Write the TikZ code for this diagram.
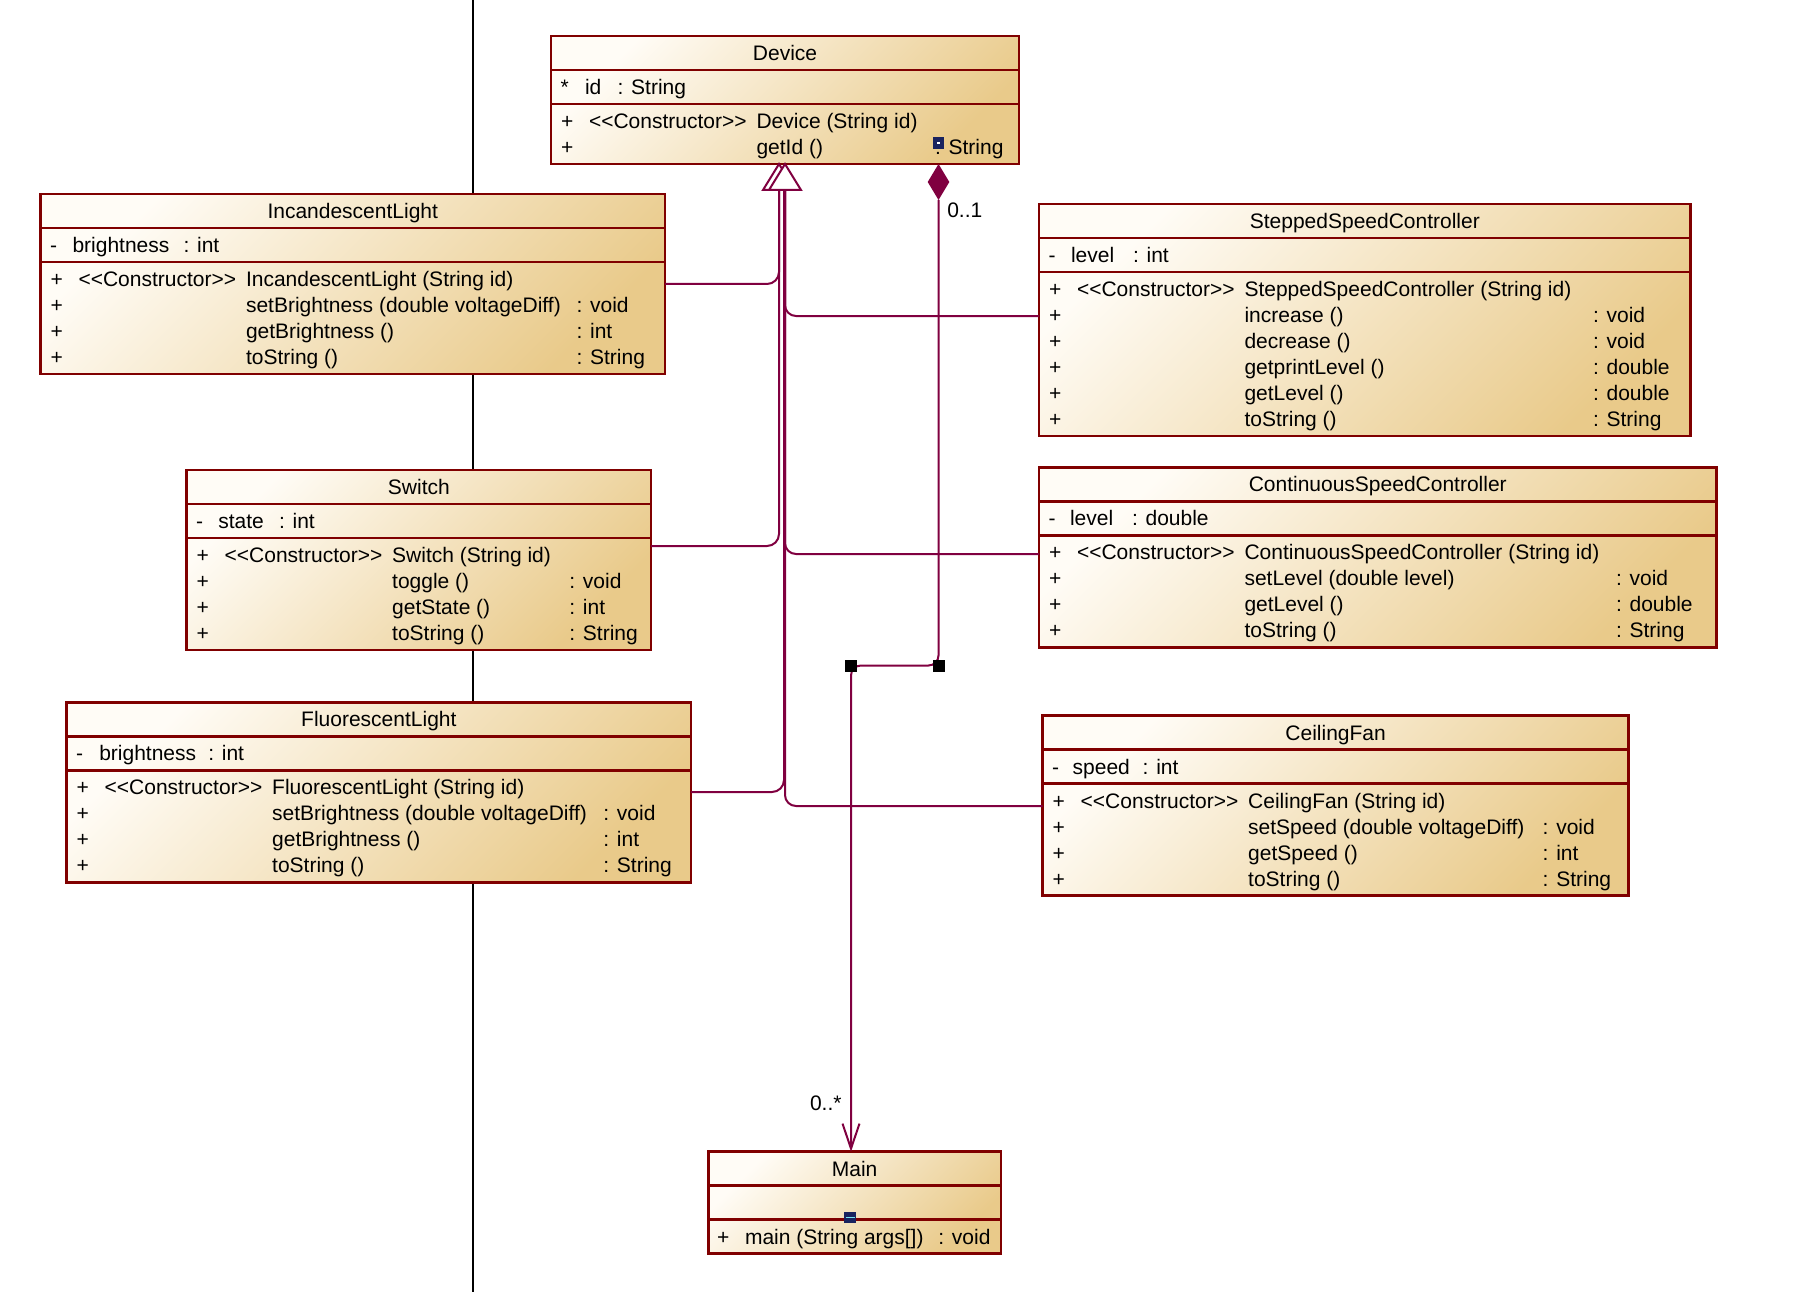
\documentclass[tikz,border=0pt]{standalone}
\usepackage{fontspec}
\setmainfont{Liberation Sans}
\usetikzlibrary{arrows.meta,calc}
\definecolor{boxborder}{RGB}{128,0,0}
\definecolor{connc}{RGB}{128,0,64}
\definecolor{boxlight}{RGB}{255,252,246}
\definecolor{boxdark}{RGB}{233,202,138}
\definecolor{handlenavy}{RGB}{25,35,95}
\definecolor{handlecyan}{RGB}{120,230,240}
\newcommand\umlfont{\fontsize{21}{25}\selectfont}
\newcommand\stereoC{<{}<Constructor>{}>}
\tikzset{
  classbox/.style={draw=boxborder, line width=2.5pt, top color=boxlight, bottom color=boxdark, shading angle=45, inner sep=0pt, outer sep=0pt},
  divider/.style={draw=boxborder, line width=2.5pt},
  txt/.style={anchor=base west, inner sep=0pt, outer sep=0pt, font=\umlfont, text=black},
  ctxt/.style={anchor=base, inner sep=0pt, outer sep=0pt, font=\umlfont, text=black},
  conn/.style={draw=connc, line width=2pt},
  handle/.style={fill=black},
}
% #1 name, #2 left, #3 right, #4 top, #5 number of operation rows, #6 title
\newcommand\umlclass[6]{%
  \def\ubname{#1}\def\ul{#2}\def\ur{#3}\def\ut{#4}%
  \pgfmathsetmacro\ubw{#3-#2}%
  \pgfmathsetmacro\ubh{68+26*#5+8}%
  \node[classbox, anchor=north west, minimum width=\ubw pt, minimum height=\ubh pt] (#1) at (#2,#4) {};
  \draw[divider] (#2,#4+34) -- (#3,#4+34);
  \draw[divider] (#2,#4+68) -- (#3,#4+68);
  \node[ctxt] (#1-title) at ({(#2+#3)/2}, #4+24.5) {#6};
}
% #1 sign, #2 name offset, #3 name, #4 type offset, #5 type
\newcommand\umlattr[5]{%
  \node[txt] (\ubname-as) at (\ul+9.5, \ut+58.5) {#1};
  \node[txt] (\ubname-an) at (\ul+#2, \ut+58.5) {#3};
  \node[txt] (\ubname-at) at (\ul+#4, \ut+58.5) {#5};
}
% #1 row index, #2 stereotype, #3 name, #4 return offset, #5 return type
\newcommand\umlop[5]{%
  \node[txt] (\ubname-ps#1) at (\ul+10, \ut+92.5+26*#1) {+};
  \node[txt] (\ubname-pc#1) at (\ul+38, \ut+92.5+26*#1) {#2};
  \node[txt] (\ubname-pn#1) at (\ul+205.5, \ut+92.5+26*#1) {#3};
  \node[txt] (\ubname-pr#1) at (\ul+#4, \ut+92.5+26*#1) {#5};
}
\begin{document}
\begin{tikzpicture}[x=1pt, y=-1pt]
\useasboundingbox (0,0) rectangle (1816,1292);
\fill[white] (0,0) rectangle (1816,1292);
% background black line
\coordinate (blTop) at (472.5,0);
\coordinate (blBot) at (472.5,1292);
\draw[black, line width=2pt] (blTop) -- (blBot);

% ---------- classes ----------
\umlclass{device}{551}{1019}{36}{2}{Device}
\umlattr{*}{34}{id}{66.6}{: String}
\umlop{0}{\stereoC}{Device (String id)}{384}{}
\umlop{1}{}{getId ()}{384}{: String}

\umlclass{inc}{40.5}{665}{194}{4}{IncandescentLight}
\umlattr{-}{32}{brightness}{143}{: int}
\umlop{0}{\stereoC}{IncandescentLight (String id)}{536}{}
\umlop{1}{}{setBrightness (double voltageDiff)}{536}{: void}
\umlop{2}{}{getBrightness ()}{536}{: int}
\umlop{3}{}{toString ()}{536}{: String}

\umlclass{ssc}{1039}{1690.7}{204}{6}{SteppedSpeedController}
\umlattr{-}{32}{level}{94}{: int}
\umlop{0}{\stereoC}{SteppedSpeedController (String id)}{554}{}
\umlop{1}{}{increase ()}{554}{: void}
\umlop{2}{}{decrease ()}{554}{: void}
\umlop{3}{}{getprintLevel ()}{554}{: double}
\umlop{4}{}{getLevel ()}{554}{: double}
\umlop{5}{}{toString ()}{554}{: String}

\umlclass{sw}{186.7}{651}{470}{4}{Switch}
\umlattr{-}{31.6}{state}{92.3}{: int}
\umlop{0}{\stereoC}{Switch (String id)}{382.6}{}
\umlop{1}{}{toggle ()}{382.6}{: void}
\umlop{2}{}{getState ()}{382.6}{: int}
\umlop{3}{}{toString ()}{382.6}{: String}

\umlclass{csc}{1039}{1716.5}{467.3}{4}{ContinuousSpeedController}
\umlattr{-}{31}{level}{93}{: double}
\umlop{0}{\stereoC}{ContinuousSpeedController (String id)}{577}{}
\umlop{1}{}{setLevel (double level)}{577}{: void}
\umlop{2}{}{getLevel ()}{577}{: double}
\umlop{3}{}{toString ()}{577}{: String}

\umlclass{fl}{66.7}{691}{702.3}{4}{FluorescentLight}
\umlattr{-}{32.6}{brightness}{141.6}{: int}
\umlop{0}{\stereoC}{FluorescentLight (String id)}{536.6}{}
\umlop{1}{}{setBrightness (double voltageDiff)}{536.6}{: void}
\umlop{2}{}{getBrightness ()}{536.6}{: int}
\umlop{3}{}{toString ()}{536.6}{: String}

\umlclass{cf}{1042.7}{1628.6}{715.7}{4}{CeilingFan}
\umlattr{-}{30}{speed}{100}{: int}
\umlop{0}{\stereoC}{CeilingFan (String id)}{500}{}
\umlop{1}{}{setSpeed (double voltageDiff)}{500}{: void}
\umlop{2}{}{getSpeed ()}{500}{: int}
\umlop{3}{}{toString ()}{500}{: String}

\umlclass{main}{708.3}{1001}{1151.7}{1}{Main}
\node[txt] (main-ps0) at (717, 1244.2) {+};
\node[txt] (main-pn0) at (745, 1244.2) {main (String args[])};
\node[txt] (main-pr0) at (938.3, 1244.2) {: void};

% small handles on the boxes
\fill[handlenavy] (932.7,137.3) rectangle (944,149.3);
\fill[white] (937.3,142.3) rectangle (939.5,144.5);
\fill[handlenavy] (844,1211.7) rectangle (856,1222.7);
\draw[handlecyan, line width=1.5pt] (845.5,1217.4) -- (854.5,1217.4);

% ---------- generalizations ----------
\coordinate (genA) at (779,190);
\coordinate (genB) at (785,190);
\coordinate (genC) at (784,190);
\draw[conn, rounded corners=12pt] (inc.east |- 0,284) -| (genA);
\draw[conn, rounded corners=12pt] (sw.east |- 0,546) -| (genA);
\draw[conn, rounded corners=12pt] (fl.east |- 0,792) -| (genC);
\draw[conn, rounded corners=11pt] (ssc.west |- 0,316) -| (genB);
\draw[conn, rounded corners=11pt] (csc.west |- 0,554) -| (genB);
\draw[conn, rounded corners=11pt] (cf.west |- 0,806) -| (genB);
\filldraw[conn, fill=white, line join=miter] (device.south -| 779,0) -- (795,190) -- (763,190) -- cycle;
\filldraw[conn, fill=white, line join=miter] (device.south -| 785,0) -- (801,190) -- (769,190) -- cycle;

% ---------- composition Device -> Main ----------
\coordinate (dtop) at (device.south -| 938.5,0);
\coordinate (dbot) at (938.5,200);
\coordinate (bendR) at (938.5,665.5);
\coordinate (bendL) at (851,665.5);
\fill[connc] (dtop) -- (949.3,182) -- (dbot) -- (927.7,182) -- cycle;
\draw[conn, rounded corners=10pt, -{Straight Barb[length=25pt, width=17pt]}]
  (dbot) -- (bendR) -- (bendL) -- (main.north -| 851,0);
\fill[handle] (bendR) ++(-6,-6) rectangle ++(12,12);
\fill[handle] (bendL) ++(-6,-6) rectangle ++(12,12);
\node[txt] (mult1) at (947.3, 217.8) {0..1};
\node[txt] (mult2) at (810, 1110.2) {0..*};
\end{tikzpicture}
\end{document}
